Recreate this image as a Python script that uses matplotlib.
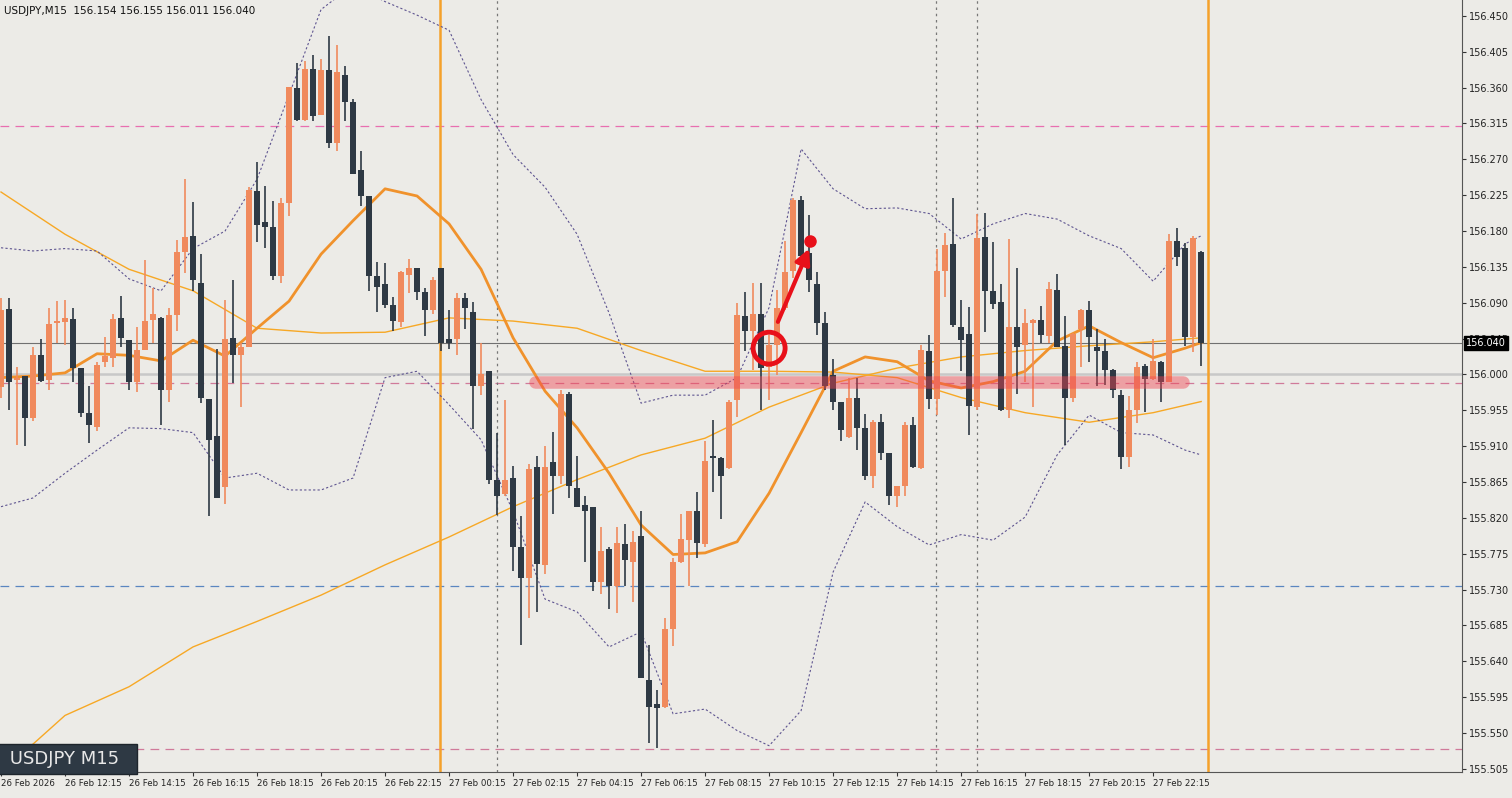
import matplotlib
matplotlib.use("Agg")
import matplotlib.pyplot as plt
from matplotlib.patches import Ellipse
import numpy as np

# OHLC of the 151 M15 candles (26 Feb 10:15 .. 27 Feb 23:15)
opens = [155.984, 156.082, 155.993, 155.998, 155.945, 156.024, 155.993, 156.064, 156.066, 156.069,
         156.008, 155.951, 155.934, 156.015, 156.021, 156.071, 156.043, 155.990, 156.031, 156.068,
         156.071, 155.981, 156.074, 156.154, 156.174, 156.115, 155.969, 155.923, 155.859, 156.046,
         156.024, 156.034, 156.230, 156.191, 156.185, 156.123, 156.215, 156.359, 156.320, 156.384,
         156.326, 156.382, 156.291, 156.376, 156.342, 156.257, 156.224, 156.123, 156.113, 156.087,
         156.066, 156.125, 156.134, 156.104, 156.081, 156.134, 156.044, 156.044, 156.096, 156.079,
         155.986, 156.004, 155.868, 155.850, 155.870, 155.784, 155.745, 155.884, 155.761, 155.890,
         155.873, 155.976, 155.857, 155.836, 155.833, 155.740, 155.781, 155.734, 155.787, 155.765,
         155.797, 155.617, 155.586, 155.583, 155.681, 155.764, 155.792, 155.829, 155.787, 155.898,
         155.895, 155.883, 155.968, 156.073, 156.054, 156.076, 156.009, 156.037, 156.084, 156.130,
         156.219, 156.152, 156.114, 156.064, 155.999, 155.966, 155.922, 155.971, 155.933, 155.872,
         155.940, 155.901, 155.848, 155.860, 155.937, 155.882, 156.029, 155.969, 156.130, 156.164,
         156.059, 156.051, 155.959, 156.172, 156.105, 156.091, 155.956, 156.059, 156.037, 156.064,
         156.068, 156.048, 156.106, 156.036, 155.971, 156.057, 156.081, 156.034, 156.029, 156.006,
         155.974, 155.896, 155.956, 156.010, 155.994, 156.015, 155.990, 156.167, 156.159, 156.047,
         156.154]
closes = [156.081, 155.990, 155.996, 155.945, 156.024, 155.992, 156.063, 156.067, 156.071, 156.008,
          155.951, 155.936, 156.012, 156.023, 156.069, 156.046, 155.990, 156.031, 156.067, 156.076,
          155.981, 156.074, 156.154, 156.172, 156.118, 155.970, 155.918, 155.845, 156.044, 156.024,
          156.034, 156.232, 156.187, 156.185, 156.123, 156.215, 156.361, 156.320, 156.384, 156.325,
          156.382, 156.291, 156.380, 156.342, 156.252, 156.224, 156.123, 156.110, 156.087, 156.067,
          156.129, 156.134, 156.104, 156.081, 156.119, 156.040, 156.040, 156.096, 156.084, 155.986,
          156.001, 155.868, 155.848, 155.868, 155.784, 155.745, 155.881, 155.762, 155.884, 155.873,
          155.976, 155.860, 155.834, 155.829, 155.739, 155.779, 155.734, 155.789, 155.767, 155.790,
          155.619, 155.583, 155.581, 155.681, 155.764, 155.794, 155.828, 155.789, 155.891, 155.895,
          155.873, 155.966, 156.074, 156.054, 156.076, 156.008, 156.037, 156.084, 156.129, 156.219,
          156.149, 156.118, 156.065, 155.985, 155.966, 155.930, 155.971, 155.933, 155.872, 155.940,
          155.901, 155.848, 155.860, 155.937, 155.884, 156.031, 155.969, 156.130, 156.162, 156.062,
          156.043, 155.960, 156.171, 156.105, 156.089, 155.956, 156.060, 156.035, 156.064, 156.068,
          156.049, 156.107, 156.035, 155.971, 156.051, 156.081, 156.047, 156.029, 156.006, 155.981,
          155.896, 155.956, 156.009, 155.994, 156.017, 155.990, 156.168, 156.147, 156.047, 156.171,
          156.040]
highs = [156.096, 156.096, 156.009, 155.998, 156.035, 156.044, 156.084, 156.092, 156.093, 156.084,
         156.008, 155.985, 156.015, 156.047, 156.076, 156.099, 156.043, 156.059, 156.144, 156.109,
         156.072, 156.084, 156.169, 156.245, 156.216, 156.151, 155.969, 156.032, 156.093, 156.119,
         156.040, 156.235, 156.267, 156.237, 156.218, 156.222, 156.361, 156.391, 156.393, 156.401,
         156.396, 156.425, 156.414, 156.387, 156.346, 156.281, 156.224, 156.141, 156.140, 156.097,
         156.130, 156.145, 156.134, 156.109, 156.122, 156.134, 156.081, 156.102, 156.102, 156.091,
         156.039, 156.004, 155.926, 155.968, 155.885, 155.822, 155.887, 155.898, 155.910, 155.928,
         155.981, 155.978, 155.898, 155.848, 155.833, 155.808, 155.784, 155.808, 155.812, 155.803,
         155.829, 155.661, 155.604, 155.694, 155.769, 155.825, 155.829, 155.853, 155.916, 155.943,
         155.896, 155.968, 156.090, 156.104, 156.115, 156.115, 156.049, 156.106, 156.168, 156.222,
         156.224, 156.200, 156.129, 156.079, 156.020, 155.966, 155.996, 155.996, 155.950, 155.943,
         155.950, 155.901, 155.860, 155.940, 155.946, 156.037, 156.049, 156.157, 156.177, 156.221,
         156.093, 156.085, 156.201, 156.203, 156.166, 156.114, 156.170, 156.134, 156.082, 156.069,
         156.086, 156.116, 156.126, 156.073, 156.052, 156.082, 156.092, 156.057, 156.044, 156.007,
         155.981, 155.973, 156.016, 156.013, 156.044, 156.017, 156.176, 156.184, 156.165, 156.174,
         156.155]
lows = [155.970, 155.956, 155.912, 155.910, 155.942, 155.990, 155.981, 156.040, 156.037, 155.991,
        155.946, 155.914, 155.929, 156.009, 156.009, 156.034, 155.981, 155.978, 156.031, 156.039,
        155.937, 155.966, 156.054, 156.127, 156.105, 155.964, 155.822, 155.845, 155.837, 155.989,
        155.959, 156.034, 156.166, 156.159, 156.118, 156.115, 156.199, 156.318, 156.318, 156.318,
        156.326, 156.284, 156.280, 156.318, 156.252, 156.211, 156.105, 156.079, 156.084, 156.054,
        156.059, 156.102, 156.093, 156.048, 156.076, 156.029, 156.032, 156.024, 156.057, 155.932,
        155.974, 155.863, 155.823, 155.847, 155.753, 155.661, 155.694, 155.702, 155.749, 155.825,
        155.862, 155.845, 155.834, 155.764, 155.728, 155.724, 155.706, 155.700, 155.734, 155.715,
        155.619, 155.538, 155.531, 155.581, 155.659, 155.763, 155.735, 155.769, 155.784, 155.853,
        155.818, 155.881, 155.946, 156.029, 156.006, 155.956, 155.968, 155.999, 156.081, 156.121,
        156.146, 156.104, 156.049, 155.981, 155.956, 155.916, 155.920, 155.905, 155.868, 155.857,
        155.893, 155.836, 155.833, 155.847, 155.882, 155.881, 155.957, 155.949, 156.097, 156.059,
        156.004, 155.924, 155.955, 156.053, 156.082, 155.954, 155.945, 155.976, 155.990, 155.959,
        156.039, 156.039, 156.034, 155.911, 155.966, 156.009, 156.015, 155.985, 155.987, 155.971,
        155.881, 155.884, 155.939, 155.953, 155.993, 155.966, 155.990, 156.136, 156.036, 156.028,
        156.011]

ind_bars = list(range(0, 149, 4)) + [150]
bb_mid = [155.996, 155.998, 156.002, 156.026, 156.024, 156.017, 156.043, 156.023, 156.058, 156.092,
          156.151, 156.193, 156.233, 156.224, 156.189, 156.132, 156.046, 155.979, 155.933, 155.876,
          155.811, 155.774, 155.776, 155.790, 155.851, 155.927, 156.004, 156.022, 156.016, 155.992,
          155.983, 155.991, 156.004, 156.042, 156.061, 156.040, 156.021, 156.033, 156.040]
bb_up = [156.159, 156.155, 156.158, 156.155, 156.120, 156.105, 156.158, 156.180, 156.245, 156.351,
         156.458, 156.489, 156.468, 156.451, 156.432, 156.345, 156.276, 156.235, 156.176, 156.077,
         155.964, 155.974, 155.974, 155.996, 156.084, 156.283, 156.233, 156.208, 156.209, 156.202,
         156.170, 156.189, 156.202, 156.195, 156.174, 156.158, 156.117, 156.164, 156.174]
bb_lo = [155.834, 155.845, 155.876, 155.905, 155.933, 155.932, 155.927, 155.870, 155.876, 155.855,
         155.855, 155.870, 155.996, 156.004, 155.962, 155.918, 155.828, 155.718, 155.702, 155.658,
         155.677, 155.574, 155.580, 155.553, 155.534, 155.578, 155.752, 155.840, 155.809, 155.786,
         155.799, 155.792, 155.821, 155.899, 155.949, 155.927, 155.924, 155.905, 155.899]

ma_slow_bars = [0, 8, 16, 24, 32, 40, 48, 56, 64, 72, 80, 88, 96, 104, 112, 120, 128, 136, 144, 150]
ma_slow = [156.229, 156.176, 156.132, 156.105, 156.058, 156.052, 156.053, 156.071, 156.067, 156.058,
           156.030, 156.004, 156.004, 156.003, 155.996, 155.971, 155.952, 155.940, 155.952, 155.966]
ma_long_bars = [0, 4, 8, 16, 24, 32, 40, 48, 56, 64, 72, 80, 88, 96, 104, 112, 120, 128, 136, 144, 150]
ma_long = [155.515, 155.536, 155.572, 155.608, 155.658, 155.690, 155.723, 155.761, 155.796, 155.834,
           155.868, 155.899, 155.920, 155.959, 155.989, 156.008, 156.022, 156.030, 156.036, 156.041, 156.046]

price_ticks = [156.450, 156.405, 156.360, 156.315, 156.270, 156.225, 156.180, 156.135, 156.090, 156.045,
               156.000, 155.955, 155.910, 155.865, 155.820, 155.775, 155.730, 155.685, 155.640, 155.595,
               155.550, 155.505]
time_ticks = [0, 8, 16, 24, 32, 40, 48, 56, 64, 72, 80, 88, 96, 104, 112, 120, 128, 136, 144]
time_labels = ["26 Feb 2026", "26 Feb 12:15", "26 Feb 14:15", "26 Feb 16:15", "26 Feb 18:15",
               "26 Feb 20:15", "26 Feb 22:15", "27 Feb 00:15", "27 Feb 02:15", "27 Feb 04:15",
               "27 Feb 06:15", "27 Feb 08:15", "27 Feb 10:15", "27 Feb 12:15", "27 Feb 14:15",
               "27 Feb 16:15", "27 Feb 18:15", "27 Feb 20:15", "27 Feb 22:15"]

BG = "#ECEBE7"
UP = "#F08A5D"
DN = "#2E3944"

fig = plt.figure(figsize=(15.12, 7.98), dpi=100, facecolor=BG)
ax = fig.add_axes([0, 26 / 798, 1462 / 1512, 772 / 798], facecolor=BG)
ax.set_xlim(-0.125, 182.6)
ax.set_ylim(155.501, 156.470)

# horizontal levels
for lvl, col in [(156.312, "#E86FB0"), (155.989, "#D07A9A"), (155.735, "#5B86C0"), (155.530, "#D07A9A")]:
    ax.axhline(lvl, color=col, lw=0.9, dashes=(7, 5))
ax.axhline(156.000, color="#C8C8C8", lw=1.8)
ax.axhline(156.040, color="#707070", lw=0.8)

# vertical lines
for b in [54.9, 150.9]:
    ax.axvline(b, color="#F5A12A", lw=1.8)
for b in [62, 116.9, 122]:
    ax.axvline(b, color="#777777", lw=0.9, ls=(0, (2, 3)))

# indicators
ax.plot(ma_long_bars, ma_long, color="#F7A825", lw=1.0)
ax.plot(ma_slow_bars, ma_slow, color="#F7A825", lw=1.0)
ax.plot(ind_bars, bb_up, color="#5E5490", lw=0.8, ls=(0, (2, 2)))
ax.plot(ind_bars, bb_lo, color="#5E5490", lw=0.8, ls=(0, (2, 2)))
ax.plot(ind_bars, bb_mid, color="#F0922C", lw=2.0)

# candles
idx = np.arange(len(opens))
o = np.array(opens); c = np.array(closes)
cols = [UP if cc >= oo else DN for oo, cc in zip(o, c)]
ax.vlines(idx, lows, highs, colors=cols, lw=1.2, zorder=3)
body = np.maximum(np.abs(c - o), 0.0008)
ax.bar(idx, body, bottom=np.minimum(o, c), width=0.75, color=cols, zorder=4)

# annotations
ax.plot([66.8, 147.7], [155.990, 155.990], color="#F04652", lw=9, alpha=0.45,
        solid_capstyle="round", zorder=5)
ax.add_patch(Ellipse((96, 156.033), 4.0, 0.040, fill=False, ec="#E8101A", lw=3.5, zorder=6))
ax.annotate("", xy=(101.0, 156.158), xytext=(97.1, 156.066), zorder=6,
            arrowprops=dict(arrowstyle="-|>,head_length=0.9,head_width=0.45", color="#E8101A", lw=3,
                            shrinkA=0, shrinkB=0))
ax.plot([101.1], [156.168], "o", color="#E8101A", ms=8, zorder=6)

# axes
ax.yaxis.tick_right()
ax.set_yticks(price_ticks)
ax.set_yticklabels([f"{p:.3f}" for p in price_ticks], fontsize=7, color="#222222")
ax.set_xticks(time_ticks)
ax.set_xticklabels(time_labels, fontsize=6.2, color="#222222", ha="left")
ax.tick_params(axis="both", length=3, width=0.8, color="#333333", pad=2)
for s in ax.spines.values():
    s.set_color("#555555"); s.set_linewidth(0.8)
ax.spines["left"].set_visible(False)
ax.spines["top"].set_visible(False)

ax.text(1.003, 156.040, "156.040", transform=ax.get_yaxis_transform(), fontsize=7, color="white",
        va="center", ha="left", bbox=dict(boxstyle="square,pad=0.2", fc="black", ec="black"), zorder=10)
ax.text(0.003, 0.992, "USDJPY,M15  156.154 156.155 156.011 156.040", transform=ax.transAxes,
        fontsize=7.5, va="top", ha="left", color="#111111")
ax.text(0.003, 0.005, " USDJPY M15  ", transform=ax.transAxes, fontsize=13, color="#E8E8E8",
        va="bottom", ha="left", zorder=10,
        bbox=dict(boxstyle="square,pad=0.35", fc="#2E3944", ec="#1E252C"))

fig.savefig("out.png", dpi=100, facecolor=BG)
